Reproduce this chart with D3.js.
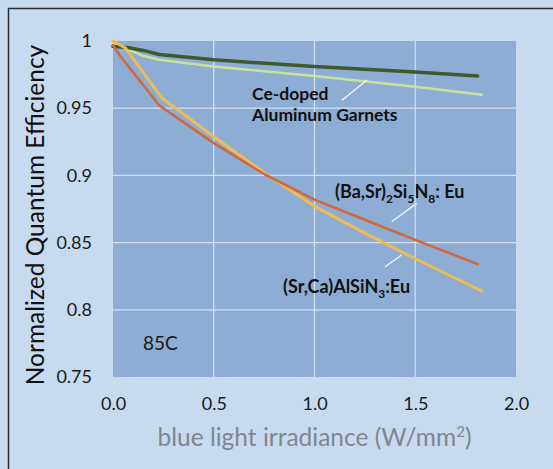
<!DOCTYPE html>
<html>
<head>
<meta charset="utf-8">
<script src="https://cdn.jsdelivr.net/npm/d3@7"></script>
<style>
  html, body { margin: 0; padding: 0; overflow: hidden; background: #c7daef; }
  svg { display: block; }
  text { font-family: Lato, "Open Sans", sans-serif; }
</style>
</head>
<body>
<script>
// irradiance (W/mm2) and normalized QE
const garnetDarkX = [0, 0.08, 0.15, 0.23, 0.5, 1.0, 1.5, 1.81];
const garnetDarkY = [0.996, 0.995, 0.993, 0.990, 0.986, 0.981, 0.977, 0.974];
const garnetLightX = [0, 0.07, 0.15, 0.23, 0.5, 1.0, 1.5, 1.83];
const garnetLightY = [0.998, 0.994, 0.989, 0.986, 0.981, 0.974, 0.966, 0.960];
const bssnX = [0, 0.03, 0.23, 0.5, 0.75, 1.0, 1.25, 1.5, 1.81];
const bssnY = [0.997, 0.990, 0.952, 0.924, 0.901, 0.882, 0.867, 0.852, 0.834];
const scasnX = [0, 0.06, 0.24, 0.5, 0.75, 1.0, 1.25, 1.5, 1.83];
const scasnY = [1.0, 0.995, 0.958, 0.929, 0.902, 0.877, 0.857, 0.838, 0.814];

const xTicks = [0, 0.5, 1.0, 1.5, 2.0];
const yTicks = [0.75, 0.8, 0.85, 0.9, 0.95, 1];

const W = 553, H = 469;
const margin = { t: 41, r: 37, b: 92, l: 113 };
const innerWidth = W - margin.l - margin.r;
const innerHeight = H - margin.t - margin.b;

const svg = d3.select('body').append('svg')
  .attr('width', W)
  .attr('height', H)
  .attr('viewBox', `0 0 ${W} ${H}`);

// frame of the slide (only top and left edges show)
svg.append('rect').attr('width', W).attr('height', H).attr('fill', '#c7daef');
svg.append('path')
  .attr('d', `M8.5,${H} V8.5 H${W}`)
  .attr('fill', 'none').attr('stroke', '#2b2b2b').attr('stroke-width', 1.5);

const x = d3.scaleLinear().domain([0, 2]).range([0, innerWidth]);
const y = d3.scaleLinear().domain([0.75, 1]).range([innerHeight, 0]);

const plot = svg.append('g')
  .attr('transform', `translate(${margin.l}, ${margin.t})`);

plot.append('rect')
  .attr('width', innerWidth).attr('height', innerHeight)
  .attr('fill', '#8dadd4');

// grid
plot.selectAll('.hgrid').data(yTicks.filter(d => d > 0.75 && d < 1)).enter()
  .append('line').attr('class', 'hgrid')
  .attr('x1', 0).attr('x2', innerWidth)
  .attr('y1', d => y(d)).attr('y2', d => y(d))
  .attr('stroke', '#d4e2f2').attr('stroke-width', 1.2);
plot.selectAll('.vgrid').data(xTicks.filter(d => d > 0 && d < 2)).enter()
  .append('line').attr('class', 'vgrid')
  .attr('y1', 0).attr('y2', innerHeight)
  .attr('x1', d => x(d)).attr('x2', d => x(d))
  .attr('stroke', '#d4e2f2').attr('stroke-width', 1.2);

// axes (labels only)
const yAxis = plot.append('g')
  .call(d3.axisLeft(y).tickValues(yTicks).tickSize(0).tickPadding(21)
    .tickFormat(d => String(+d.toFixed(2))));
yAxis.select('.domain').remove();
yAxis.selectAll('text').attr('font-size', 18).attr('fill', '#1a1a1a')
  .style('font-family', 'Lato, sans-serif');

const xAxis = plot.append('g')
  .attr('transform', `translate(0, ${innerHeight})`)
  .call(d3.axisBottom(x).tickValues(xTicks).tickSize(0).tickPadding(20)
    .tickFormat(d3.format('.1f')));
xAxis.select('.domain').remove();
xAxis.selectAll('text').attr('font-size', 18).attr('fill', '#1a1a1a')
  .style('font-family', 'Lato, sans-serif');

// series
const line = d3.line().x(d => x(d[0])).y(d => y(d[1]));
const series = [
  { xs: garnetLightX, ys: garnetLightY, color: '#c9e39c', w: 2.5 },
  { xs: garnetDarkX, ys: garnetDarkY, color: '#3c5a2b', w: 3.5 },
  { xs: scasnX, ys: scasnY, color: '#efbb55', w: 3 },
  { xs: bssnX, ys: bssnY, color: '#d4683a', w: 2.5 }
];
plot.selectAll('.series').data(series).enter()
  .append('path').attr('class', 'series')
  .attr('d', s => line(s.xs.map((v, i) => [v, s.ys[i]])))
  .attr('fill', 'none')
  .attr('stroke', s => s.color)
  .attr('stroke-width', s => s.w)
  .attr('stroke-linejoin', 'round')
  .attr('stroke-linecap', 'round');

// leader lines
const leaders = [
  [[1.136, 0.956], [1.261, 0.971]],
  [[1.383, 0.8655], [1.507, 0.8792]],
  [[1.35, 0.832], [1.432, 0.8408]]
];
plot.selectAll('.leader').data(leaders).enter()
  .append('line').attr('class', 'leader')
  .attr('x1', d => x(d[0][0])).attr('y1', d => y(d[0][1]))
  .attr('x2', d => x(d[1][0])).attr('y2', d => y(d[1][1]))
  .attr('stroke', '#f4f8fc').attr('stroke-width', 1.3);

// labels
const lab = plot.append('g').attr('font-size', 17.5).attr('font-weight', 'bold').attr('fill', '#111');
lab.append('text').attr('x', x(0.69)).attr('y', y(0.9561)).text('Ce-doped');
lab.append('text').attr('x', x(0.69)).attr('y', y(0.9405)).text('Aluminum Garnets');

const t1 = lab.append('text').attr('x', x(1.102)).attr('y', y(0.8832)).attr('font-size', 18);
t1.append('tspan').text('(Ba,Sr)');
t1.append('tspan').attr('font-size', 12).attr('dy', 5).text('2');
t1.append('tspan').attr('dy', -5).text('Si');
t1.append('tspan').attr('font-size', 12).attr('dy', 5).text('5');
t1.append('tspan').attr('dy', -5).text('N');
t1.append('tspan').attr('font-size', 12).attr('dy', 5).text('8');
t1.append('tspan').attr('dy', -5).text(': Eu');

const t2 = lab.append('text').attr('x', x(0.844)).attr('y', y(0.8125)).attr('font-size', 18);
t2.append('tspan').text('(Sr,Ca)AlSiN');
t2.append('tspan').attr('font-size', 12).attr('dy', 5).text('3');
t2.append('tspan').attr('dy', -5).text(':Eu');

plot.append('text')
  .attr('x', x(0.149)).attr('y', y(0.770))
  .attr('font-size', 19).attr('fill', '#1a1a1a')
  .text('85C');

// axis titles
svg.append('text')
  .attr('transform', `translate(44, 215) rotate(-90)`)
  .attr('text-anchor', 'middle')
  .attr('font-size', 24.5).attr('fill', '#111')
  .text('Normalized Quantum Efficiency');

const xt = svg.append('text')
  .attr('x', margin.l + x(1.0)).attr('y', 446)
  .attr('text-anchor', 'middle')
  .attr('font-size', 24.5).attr('fill', '#80868e');
xt.append('tspan').text('blue light irradiance (W/mm');
xt.append('tspan').attr('font-size', 15).attr('dy', -9).text('2');
xt.append('tspan').attr('dy', 9).text(')');
</script>
</body>
</html>
